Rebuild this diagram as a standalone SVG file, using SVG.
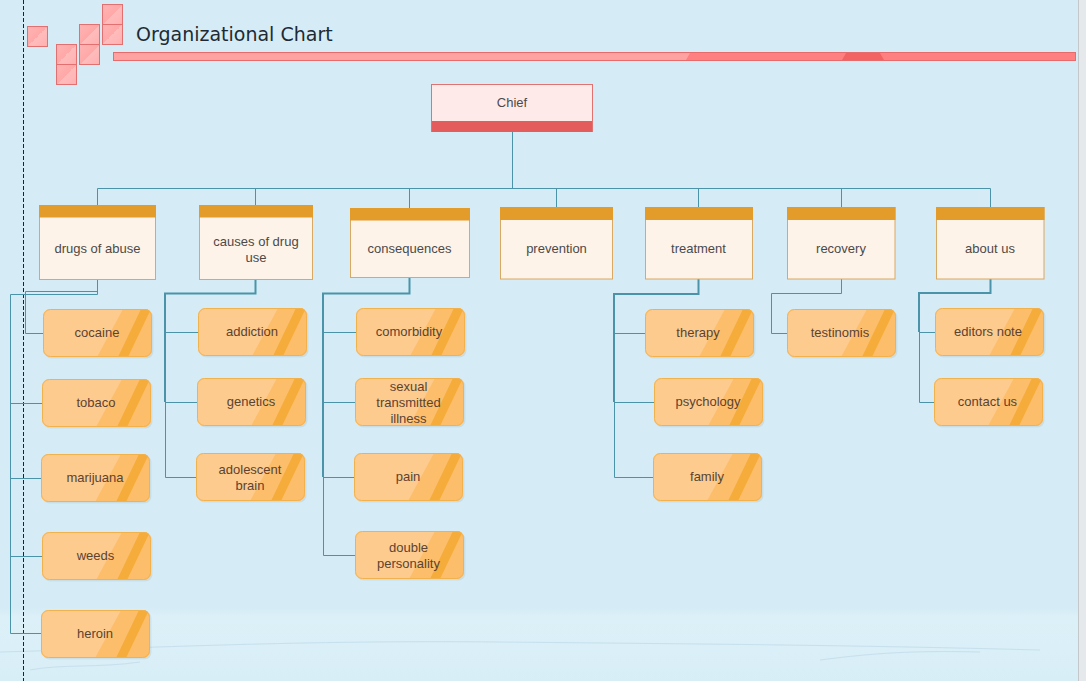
<svg xmlns="http://www.w3.org/2000/svg" xmlns:xlink="http://www.w3.org/1999/xlink" width="1086" height="681" viewBox="0 0 1086 681">
<style>
.sq{fill:url(#sqg);stroke:#e27070;stroke-width:1}
.cat{fill:#fef3e8;stroke:#d9a862;stroke-width:1}
.hd{fill:#e39c2a}
.ct{font-family:"Liberation Sans",Arial,sans-serif;font-size:13px;fill:#4a4a4a;text-anchor:middle}
.lt{font-family:"Liberation Sans",Arial,sans-serif;font-size:13px;fill:#5b4332;text-anchor:middle}
.cn{fill:none;stroke:#4b93a8;stroke-width:1}
.tk{fill:none;stroke:#4b93a8;stroke-width:2}
</style>
<defs>
<linearGradient id="sqg" x1="0" y1="0" x2="1" y2="1">
<stop offset="0" stop-color="#ffb4b4"/><stop offset="0.5" stop-color="#ffa8a8"/><stop offset="0.5" stop-color="#ffbcbc"/><stop offset="1" stop-color="#ffb0b0"/>
</linearGradient>
<linearGradient id="bg" x1="0" y1="0" x2="0" y2="1">
<stop offset="0" stop-color="#d5ecf6" stop-opacity="0"/><stop offset="0.15" stop-color="#dcf0f8"/><stop offset="1" stop-color="#d8eef7"/>
</linearGradient>
<clipPath id="lc"><rect width="109" height="48" rx="7"/></clipPath>
<g id="leaf">
<rect x="1.5" y="1.5" width="109" height="48" rx="7" fill="#000" opacity="0.06"/>
<rect width="109" height="48" rx="7" fill="#fecb8e"/>
<g clip-path="url(#lc)">
<polygon points="54,48 80,0 109,0 109,48" fill="#fdbe6c"/>
<polygon points="75,48 85,48 108,0 98,0" fill="#f5ac3a"/>
</g>
<rect x="0.5" y="0.5" width="108" height="47" rx="7" fill="none" stroke="#f1b24e"/>
</g>
</defs>

<rect width="1086" height="681" fill="#d5ecf6"/>
<rect x="0" y="605" width="1078" height="76" fill="url(#bg)"/>
<path d="M0,652 C150,648 300,640 500,642 C700,644 850,645 1040,650" fill="none" stroke="#c6e0ec" stroke-width="1"/>
<path d="M820,660 C860,655 900,650 980,652" fill="none" stroke="#c6e0ec" stroke-width="1"/>
<path d="M30,670 C60,664 100,668 140,662" fill="none" stroke="#c6e0ec" stroke-width="1"/>
<rect x="1078" y="0" width="8" height="681" fill="#e6e9eb"/>
<line x1="1078.5" y1="0" x2="1078.5" y2="681" stroke="#c4c8ca"/>
<line x1="23.5" y1="0" x2="23.5" y2="681" stroke="#222" stroke-dasharray="4,2"/>

<g id="title">
<rect class="sq" x="27.5" y="26.5" width="20" height="20"/>
<rect class="sq" x="56.5" y="44.5" width="20" height="20"/>
<rect class="sq" x="56.5" y="64.5" width="20" height="20"/>
<rect class="sq" x="79.5" y="24.5" width="20" height="20"/>
<rect class="sq" x="79.5" y="44.5" width="20" height="20"/>
<rect class="sq" x="102.5" y="4.5" width="20" height="20"/>
<rect class="sq" x="102.5" y="24.5" width="20" height="20"/>
<text x="136" y="41" font-family="'DejaVu Sans',Verdana,sans-serif" font-size="19" fill="#1e2a33">Organizational Chart</text>
<rect x="113.5" y="52.5" width="962" height="8" fill="#ff8080" stroke="#e86a6a"/>
<polygon points="114,53 690,53 686,60 114,60" fill="#ffa2a2"/>
<polygon points="846,53 880,53 884,60 842,60" fill="#f26464"/>
</g>

<g id="connectors">
<path class="cn" d="M512.5,132 V188.5 M97.5,188.5 H990.5 M97.5,188.5 V205 M255.5,188.5 V205 M409.5,188.5 V208 M556.5,188.5 V207 M698.5,188.5 V207 M841.5,188.5 V207 M990.5,188.5 V207"/>
<path class="cn" d="M97.5,280 V294.5 H10.5 V633.5 H41 M10.5,403.5 H42 M10.5,478.5 H41 M10.5,556.5 H42"/>
<path class="cn" d="M97.5,291.5 H25.5 V333.5 H43"/>
<path class="tk" d="M255.5,280 V293.5 H165 V402"/>
<path class="cn" d="M165.5,402 V477.5 H196 M165.5,332.5 H198 M165.5,402.5 H197"/>
<path class="tk" d="M409.5,277 V293.5 H323 V477"/>
<path class="cn" d="M323.5,477 V555.5 H355 M323.5,332.5 H356 M323.5,402.5 H355 M323.5,477.5 H354"/>
<path class="tk" d="M698.5,279 V294 H614 V402"/>
<path class="cn" d="M614.5,402 V477.5 H653 M614.5,333.5 H645 M614.5,402.5 H654"/>
<path class="cn" d="M841.5,279 V293.5 H771.5 V333.5 H787"/>
<path class="tk" d="M990.5,279 V293 H919 V332"/>
<path class="cn" d="M919.5,332 V402.5 H934 M919.5,332.5 H935"/>
</g>

<g id="chief">
<rect x="431.5" y="84.5" width="161" height="47" fill="#ffeaea" stroke="#e07272"/>
<rect x="432" y="121" width="160" height="11" fill="#e45c5c"/>
<text class="ct" x="512" y="107">Chief</text>
</g>

<g id="drugs-of-abuse">
<rect class="cat" x="39.5" y="205.5" width="116" height="74"/>
<rect class="hd" x="39" y="205" width="117" height="12.5"/>
<text class="ct" x="97.5" y="253">drugs of abuse</text>
</g>
<g id="causes-of-drug-use">
<rect class="cat" x="199.5" y="205.5" width="113" height="74"/>
<rect class="hd" x="199" y="205" width="114" height="12.5"/>
<text class="ct" x="256" y="246">causes of drug</text>
<text class="ct" x="256" y="262">use</text>
</g>
<g id="consequences">
<rect class="cat" x="350.5" y="208.5" width="119" height="69"/>
<rect class="hd" x="350" y="208" width="120" height="12.5"/>
<text class="ct" x="409.5" y="253">consequences</text>
</g>
<g id="prevention">
<rect class="cat" x="500.5" y="207.5" width="112" height="71.5"/>
<rect class="hd" x="500" y="207" width="113" height="13"/>
<text class="ct" x="556.5" y="253">prevention</text>
</g>
<g id="treatment">
<rect class="cat" x="645.5" y="207.5" width="107" height="71.5"/>
<rect class="hd" x="645" y="207" width="108" height="13"/>
<text class="ct" x="698.5" y="253">treatment</text>
</g>
<g id="recovery">
<rect class="cat" x="787.5" y="207.5" width="107.5" height="71.5"/>
<rect class="hd" x="787" y="207" width="108.5" height="13"/>
<text class="ct" x="841" y="253">recovery</text>
</g>
<g id="about-us">
<rect class="cat" x="936.5" y="207.5" width="107.5" height="71.5"/>
<rect class="hd" x="936" y="207" width="108.5" height="13"/>
<text class="ct" x="990" y="253">about us</text>
</g>

<g id="cocaine"><use href="#leaf" x="43" y="309"/><text class="lt" x="97" y="337">cocaine</text></g>
<g id="tobaco"><use href="#leaf" x="42" y="379"/><text class="lt" x="96" y="407">tobaco</text></g>
<g id="marijuana"><use href="#leaf" x="41" y="454"/><text class="lt" x="95" y="482">marijuana</text></g>
<g id="weeds"><use href="#leaf" x="42" y="532"/><text class="lt" x="95.5" y="560">weeds</text></g>
<g id="heroin"><use href="#leaf" x="41" y="610"/><text class="lt" x="95" y="638">heroin</text></g>

<g id="addiction"><use href="#leaf" x="198" y="308"/><text class="lt" x="252" y="336">addiction</text></g>
<g id="genetics"><use href="#leaf" x="197" y="378"/><text class="lt" x="251" y="406">genetics</text></g>
<g id="adolescent-brain"><use href="#leaf" x="196" y="453"/><text class="lt" x="250" y="473.5">adolescent</text><text class="lt" x="250" y="489.5">brain</text></g>

<g id="comorbidity"><use href="#leaf" x="356" y="308"/><text class="lt" x="409" y="336">comorbidity</text></g>
<g id="sexual-transmitted-illness"><use href="#leaf" x="355" y="378"/><text class="lt" x="408.5" y="390.5">sexual</text><text class="lt" x="408.5" y="406.5">transmitted</text><text class="lt" x="408.5" y="422.5">illness</text></g>
<g id="pain"><use href="#leaf" x="354" y="453"/><text class="lt" x="408" y="481">pain</text></g>
<g id="double-personality"><use href="#leaf" x="355" y="531"/><text class="lt" x="408.5" y="551.5">double</text><text class="lt" x="408.5" y="567.5">personality</text></g>

<g id="therapy"><use href="#leaf" x="645" y="309"/><text class="lt" x="698" y="337">therapy</text></g>
<g id="psychology"><use href="#leaf" x="654" y="378"/><text class="lt" x="708" y="406">psychology</text></g>
<g id="family"><use href="#leaf" x="653" y="453"/><text class="lt" x="707" y="481">family</text></g>

<g id="testinomis"><use href="#leaf" x="787" y="309"/><text class="lt" x="840" y="337">testinomis</text></g>

<g id="editors-note"><use href="#leaf" x="935" y="308"/><text class="lt" x="988" y="336">editors note</text></g>
<g id="contact-us"><use href="#leaf" x="934" y="378"/><text class="lt" x="987.5" y="406">contact us</text></g>
</svg>
